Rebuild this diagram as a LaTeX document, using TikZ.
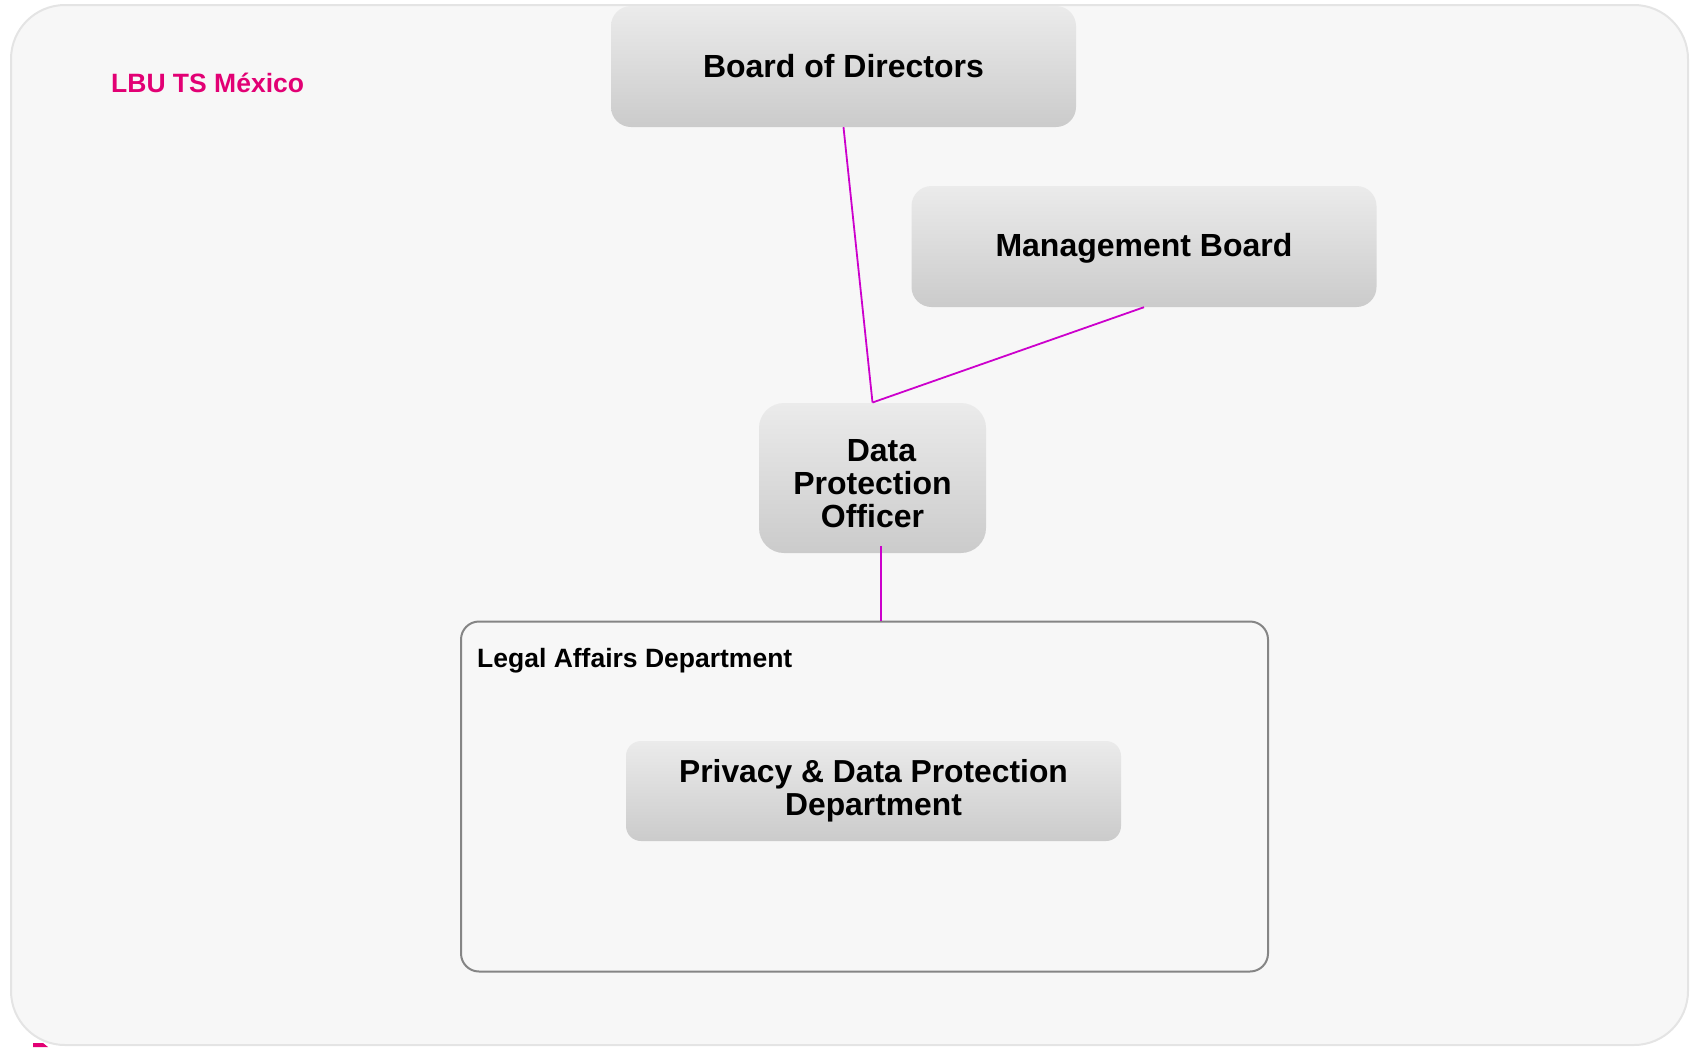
\documentclass[tikz,border=0pt]{standalone}
\usepackage{fontspec}
\setmainfont{Liberation Sans}
\definecolor{boxtop}{HTML}{EBEBEB}
\definecolor{boxbot}{HTML}{CBCBCB}
\definecolor{linkc}{RGB}{204,0,204}
\definecolor{lbupink}{HTML}{E20074}
\definecolor{outerline}{HTML}{E4E4E4}
\definecolor{bgfill}{HTML}{F7F7F7}
\definecolor{legalline}{HTML}{858585}
\begin{document}
\begin{tikzpicture}[x=1pt,y=-1pt,
  box/.style={rounded corners=20pt, top color=boxtop, bottom color=boxbot, draw=none,
    font=\bfseries\fontsize{32}{33}\selectfont, align=center, inner sep=0pt},
  boxtext/.style={font=\bfseries\fontsize{32}{33}\selectfont, align=center, inner sep=0pt},
  link/.style={draw=linkc, line width=1.8pt},
  lbl/.style={anchor=base west, inner sep=0pt}]
\useasboundingbox (0,0) rectangle (1694,1047);
\draw[draw=outerline, fill=bgfill, line width=2pt, rounded corners=54pt] (11,5) rectangle (1688,1045);
\fill[lbupink] (33,1043) -- (43,1043) -- (48,1047) -- (33,1047) -- cycle;

\node[lbl, text=lbupink, font=\bfseries\fontsize{26.5}{30}\selectfont] (lbu) at (111,92.7) {LBU TS México};

\node[box, minimum width=465pt, minimum height=121pt] (bod) at (843.5,66.5) {Board of Directors};
\node[box, minimum width=465pt, minimum height=121pt] (mb) at (1144,246.5) {};
\node[boxtext] (mbtext) at ([yshift=-2pt]mb.center) {Management Board};
\node[box, rounded corners=25pt, minimum width=227pt, minimum height=150pt] (dpo) at (872.5,478) {};
\node[boxtext] (dpotext) at ([yshift=-5.5pt]dpo.center) {\hspace*{18pt}Data\\Protection\\Officer};

\node[draw=legalline, line width=2pt, rounded corners=18pt, minimum width=807pt, minimum height=350pt, inner sep=0pt] (legal) at (864.5,796.5) {};
\node[lbl, font=\bfseries\fontsize{26.5}{30}\selectfont] (legallabel) at (477,667) {Legal Affairs Department};
\node[box, rounded corners=15pt, font=\bfseries\fontsize{31.8}{33}\selectfont, minimum width=495pt, minimum height=100pt] (pdp) at (873.5,791) {Privacy \& Data Protection\\Department};

\coordinate (j) at (872.5,402.5);
\coordinate (dpoout) at (881,546);
\draw[link] (bod.south) -- (j);
\draw[link] (mb.south) -- (j);
\draw[link] (dpoout) -- (dpoout |- legal.north);
\end{tikzpicture}
\end{document}
